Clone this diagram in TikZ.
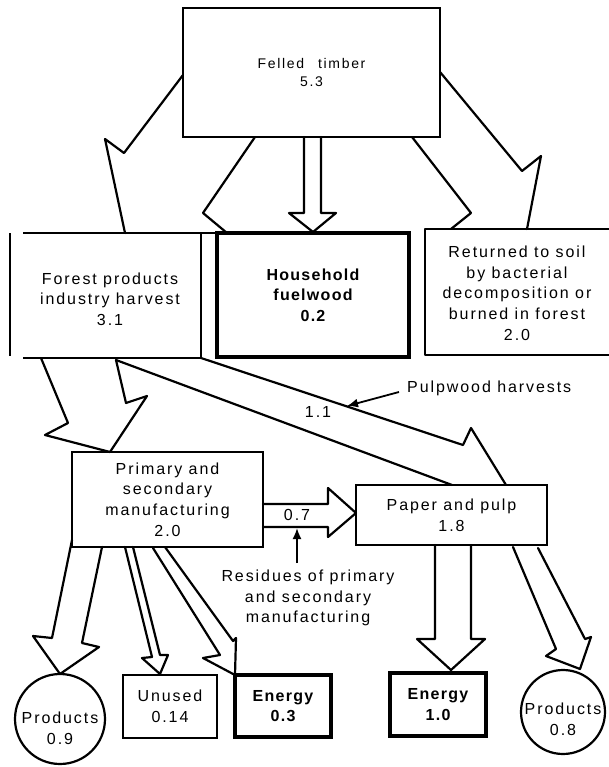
\documentclass[tikz,border=0pt]{standalone}
\usepackage{fontspec}
\setmainfont{Liberation Sans}[LetterSpace=12]
\newfontfamily\boldfam{Liberation Sans}[LetterSpace=8]
\usetikzlibrary{arrows.meta}
\begin{document}
\begin{tikzpicture}[x=1pt,y=-1pt,
  ln/.style={line width=2.2pt,line join=round,line cap=round},
  txt/.style={align=center,inner sep=0pt,font=\fontsize{16}{20.7}\selectfont},
  box/.style={txt,draw,line width=2.2pt},
  bbox/.style={draw,line width=3.2pt,align=center,inner sep=0pt,font=\boldfam\bfseries\fontsize{16}{20.7}\selectfont},
  ring/.style={circle,draw,line width=2.2pt,inner sep=0pt},
  ptr/.style={line width=1.8pt,-{Latex[length=11pt,width=9pt]}}]
\useasboundingbox (0,0) rectangle (608,767);

% boxes
\node[box,minimum width=257pt,minimum height=129pt,font=\fontsize{14}{18.5}\selectfont] (felled) at (311.5,72.5) {Felled\quad timber\\5.3};
\node[txt] (forest) at (110,299) {Forest products\\industry harvest\\3.1};
\draw[ln,line cap=butt] (23,233) -- (217,233);
\draw[ln,line cap=butt] (201,233) -- (201,358) -- (23,358);
\draw[ln,line cap=butt] (10,233) -- (10,356);
\node[bbox,minimum width=192pt,minimum height=124pt] (house) at (313,295) {Household\\fuelwood\\0.2};
\draw[ln,line cap=butt] (614,229) -| (425,355) -- (614,355);
\node[txt] (soil) at (517,293) {Returned to soil\\by bacterial\\decomposition or\\burned in forest\\2.0};
\node[box,minimum width=191pt,minimum height=95pt] (prim) at (167.5,499.5) {Primary and\\secondary\\manufacturing\\2.0};
\node[box,minimum width=191pt,minimum height=60pt] (paper) at (451.5,515) {Paper and pulp\\1.8};
\node[box,minimum width=94pt,minimum height=63pt] (unused) at (170,706.5) {Unused\\0.14};
\node[bbox,minimum width=96pt,minimum height=62pt] (en1) at (283,706) {Energy\\0.3};
\node[bbox,minimum width=96pt,minimum height=63pt] (en2) at (438,704.5) {Energy\\1.0};
\node[ring,minimum size=90pt] (prod1) at (60,719) {};
\node[txt] (prod1t) at (60,728) {Products\\0.9};
\node[ring,minimum size=84pt] (prod2) at (563,712) {};
\node[txt] (prod2t) at (563,719) {Products\\0.8};

% block arrows
\draw[ln] (183,75) -- (124,153) -- (105,139) -- (125,233);
\draw[ln] (255,137) -- (203,213) -- (227,233);
\draw[ln] (304,137) -- (304,213) -- (289,213) -- (313,232) -- (336,213) -- (321,213) -- (321,137);
\draw[ln] (440,72) -- (522,171) -- (541,156) -- (527,229);
\draw[ln] (412,137) -- (471,213) -- (451,229);
\draw[ln] (41,358) -- (68,423) -- (45,435) -- (110,452) -- (147,396) -- (126,403) -- (116,360);
\draw[ln] (201,358) -- (463,445) -- (471,428) -- (506,485);
\draw[ln] (116,360) -- (452,485);
\draw[ln] (263,504) -- (328,504) -- (328,488) -- (356,513) -- (328,537) -- (328,527) -- (263,527);
\draw[ln] (72,540) -- (52,638) -- (33,636) -- (60,674) -- (99,647) -- (82,643) -- (102,547);
\draw[ln] (125,547) -- (152,657) -- (142,658) -- (160,674) -- (168,655) -- (160,655) -- (133,547);
\draw[ln] (153,548) -- (220,655) -- (203,658) -- (235,675);
\draw[ln] (165,547) -- (233,641) -- (236,638) -- (235,675);
\draw[ln] (435,545) -- (435,639) -- (417,639) -- (451,670) -- (485,639) -- (471,639) -- (471,545);
\draw[ln] (513,547) -- (556,649) -- (546,656) -- (580,669) -- (591,637) -- (585,639) -- (538,548);

% labels and pointers
\node[txt] (l11) at (318,412) {1.1};
\node[txt] (l07) at (297,515) {0.7};
\node[txt,anchor=west] (pulpl) at (407,388) {Pulpwood harvests};
\node[txt] (resid) at (308,598) {Residues of primary\\and secondary\\manufacturing};
\coordinate (pa) at (399,392);
\coordinate (pb) at (347,406);
\draw[ptr] (pa) -- (pb);
\coordinate (ra) at (297,563);
\coordinate (rb) at (297,528);
\draw[ptr] (ra) -- (rb);
\end{tikzpicture}
\end{document}
